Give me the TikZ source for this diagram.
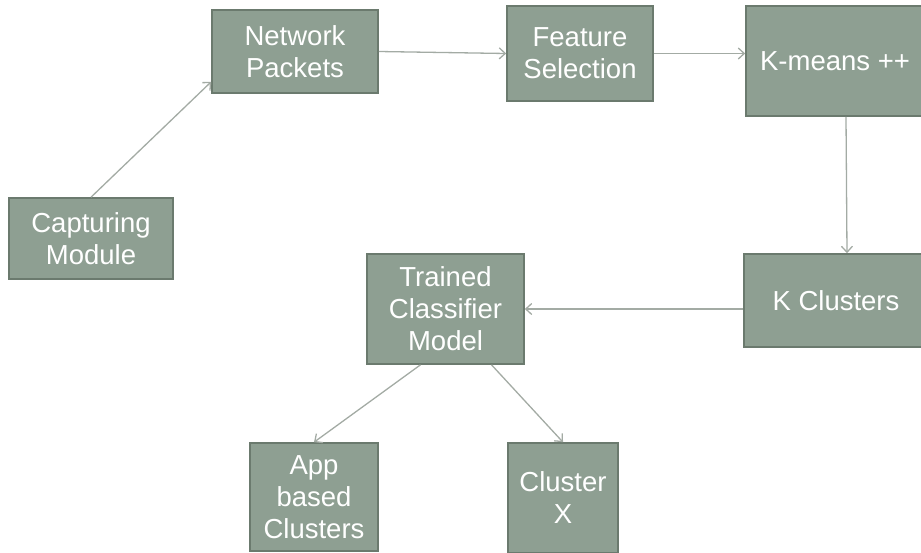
\documentclass[tikz,border=0pt]{standalone}
\usepackage{fontspec}
\setmainfont{Liberation Sans}
\usetikzlibrary{arrows.meta}
\definecolor{boxfill}{HTML}{8E9F92}
\definecolor{boxline}{HTML}{6B7A6E}
\definecolor{linkgray}{HTML}{A3ABA4}

\begin{document}
\begin{tikzpicture}[x=1pt,y=-1pt,
    box/.style={draw=boxline,line width=1.6pt,fill=boxfill,text=white,align=center,
                inner sep=0pt,font=\fontsize{27.5}{32}\selectfont},
    link/.style={draw=linkgray,line width=1.3pt,-{Straight Barb[length=6pt,width=11pt]}}]
            \useasboundingbox (0,0) rectangle (921,552);
            \draw (91,238.5)  node[box,minimum width=164pt,minimum height=81pt]  (cap) {Capturing\\Module};
            \draw (295,51.5)  node[box,minimum width=166pt,minimum height=83pt]  (net) {Network\\Packets};
            \draw (580,53.5)  node[box,minimum width=146pt,minimum height=95pt]  (feat) {Feature\\Selection};
            \draw (835,61)    node[box,minimum width=178pt,minimum height=110pt] (km) {K-means ++};
            \draw (836,300.5) node[box,minimum width=184pt,minimum height=93pt]  (kc) {K Clusters};
            \draw (445.5,309) node[box,minimum width=157pt,minimum height=110pt] (tc) {Trained\\Classifier\\Model};
            \draw (314,497)   node[box,minimum width=128pt,minimum height=108pt] (app) {App\\based\\Clusters};
            \draw (563,498)   node[box,minimum width=110pt,minimum height=110pt] (cx) {Cluster\\X};
            \draw[link] (cap.north) -- ([yshift=12pt]net.south west);
            \draw[link] (net.east) -- (feat.west);
            \draw[link] (feat.east) -- (km.west |- feat.east);
            \draw[link] ([xshift=11pt]km.south) -- ([xshift=11pt]kc.north);
            \draw[link] (kc.west |- tc.east) -- (tc.east);
            \draw[link] ([xshift=-25pt]tc.south) -- (app.north);
            \draw[link] ([xshift=46pt]tc.south) -- (cx.north);
    \end{tikzpicture}
\end{document}
